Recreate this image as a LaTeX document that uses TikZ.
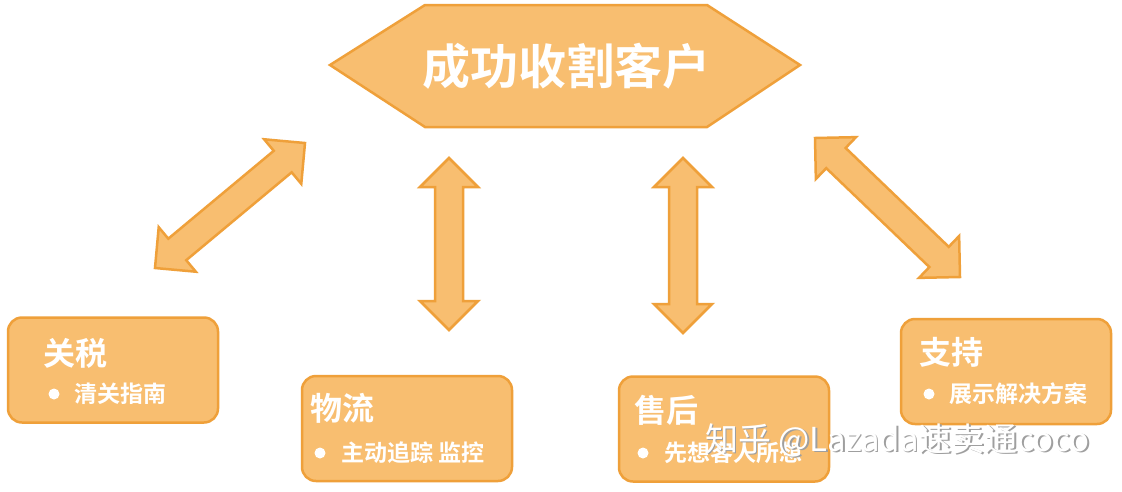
\documentclass[tikz,border=0pt]{standalone}
\usepackage{fontspec}
\setmainfont{Noto Sans CJK SC}[BoldFont={Noto Sans CJK SC Bold}]
\usetikzlibrary{calc}
\definecolor{fillc}{HTML}{F8BE70}
\definecolor{edgec}{HTML}{EFA03A}
\newcommand\dblarr[2]{%
\draw[shp] (#1)
 -- ($($(#1)!29pt!(#2)$)!29pt!90:(#2)$)
 -- ($($(#1)!29pt!(#2)$)!14pt!90:(#2)$)
 -- ($($(#2)!29pt!(#1)$)!14pt!-90:(#1)$)
 -- ($($(#2)!29pt!(#1)$)!29pt!-90:(#1)$)
 -- (#2)
 -- ($($(#2)!29pt!(#1)$)!29pt!90:(#1)$)
 -- ($($(#2)!29pt!(#1)$)!14pt!90:(#1)$)
 -- ($($(#1)!29pt!(#2)$)!14pt!-90:(#2)$)
 -- ($($(#1)!29pt!(#2)$)!29pt!-90:(#2)$)
 -- cycle;}
\begin{document}
\begin{tikzpicture}[x=1pt,y=-1pt,
  shp/.style={fill=fillc,draw=edgec,line width=2.5pt,line join=miter},
  box/.style={shp,rounded corners=14pt,minimum width=210pt,minimum height=105pt,inner sep=0pt},
  ttl/.style={anchor=west,text=white,font=\bfseries\fontsize{32}{32}\selectfont,inner sep=0pt},
  itm/.style={anchor=west,text=white,font=\bfseries\fontsize{23}{23}\selectfont,inner sep=0pt},
  dot/.style={circle,fill=white,minimum size=11pt,inner sep=0pt},
  wm/.style={font=\fontsize{33}{33}\selectfont,inner sep=0pt,anchor=west}
]
\useasboundingbox[fill=white] (0,0) rectangle (1122,491);
% goal hexagon
\draw[shp] (330,65) -- (425,5) -- (707,5) -- (800,65) -- (707,127) -- (425,127) -- cycle;
\node[text=white,font=\bfseries\fontsize{48}{48}\selectfont,inner sep=0pt] (goal) at (566,66) {成功收割客户};
% boxes
\node[box] (b1) at (113,370) {};
\node[box] (b2) at (407,428.5) {};
\node[box] (b3) at (724,429) {};
\node[box] (b4) at (1006,371.5) {};
% box texts
\node[ttl] (t1) at (43,353) {关税};
\node[dot] (d1) at (54,394) {};
\node[itm] (i1) at (74,394) {清关指南};
\node[ttl] (t2) at (310,408) {物流};
\node[dot] (d2) at (320,453) {};
\node[itm] (i2) at (341,453) {主动追踪 监控};
\node[ttl] (t3) at (634,410) {售后};
\node[dot] (d3) at (643,453) {};
\node[itm] (i3) at (664,453) {先想客人所想};
\node[ttl] (t4) at (919,352) {支持};
\node[dot] (d4) at (929,394) {};
\node[itm] (i4) at (949,394) {展示解决方案};
% arrows
\coordinate (a1s) at (155,268); \coordinate (a1e) at (305,143);
\coordinate (a2s) at (449,330); \coordinate (a2e) at (449,158);
\coordinate (a3s) at (683,333); \coordinate (a3e) at (683,158);
\coordinate (a4s) at (815,138); \coordinate (a4e) at (960,277);
\dblarr{a1s}{a1e}
\dblarr{a2s}{a2e}
\dblarr{a3s}{a3e}
\dblarr{a4s}{a4e}
% watermark
\node[wm,text=gray!75] (wms) at (706.5,441.5) {知乎 @Lazada速卖通coco};
\node[wm,text=white] (wmt) at (705,440) {知乎 @Lazada速卖通coco};
\end{tikzpicture}
\end{document}
